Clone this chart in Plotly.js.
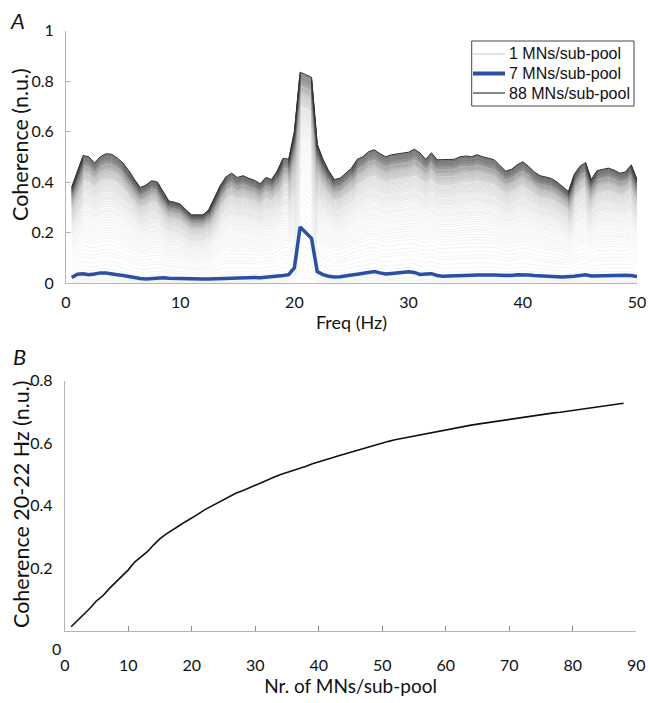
<!DOCTYPE html>
<html>
<head>
<meta charset="utf-8">
<script src="https://cdn.plot.ly/plotly-3.0.1.min.js"></script>
<style>
html,body{margin:0;padding:0;background:#fff;}
#chart{width:648px;height:703px;}
</style>
</head>
<body>
<div id="chart"></div>
<script>
// ---- Panel A: coherence spectra (x = frequency, Hz) ----
const freqHz = [0.5,1,1.5,2,2.5,3,3.5,4,4.5,5,5.5,6,6.5,7,7.5,8,8.5,9,9.5,10,
  10.5,11,11.5,12,12.5,13,13.5,14,14.5,15,15.5,16,16.5,17,17.5,18,18.5,19,19.5,20,
  20.5,21,21.5,22,22.5,23,23.5,24,24.5,25,25.5,26,26.5,27,27.5,28,28.5,29,29.5,30,
  30.5,31,31.5,32,32.5,33,33.5,34,34.5,35,35.5,36,36.5,37,37.5,38,38.5,39,39.5,40,
  40.5,41,41.5,42,42.5,43,43.5,44,44.5,45,45.5,46,46.5,47,47.5,48,48.5,49,49.5,50];

// 88 MNs/sub-pool (top, darkest curve)
const coh88 = [0.38,0.44,0.505,0.50,0.475,0.50,0.512,0.51,0.495,0.475,
  0.445,0.41,0.378,0.388,0.405,0.40,0.36,0.325,0.32,0.313,
  0.29,0.27,0.27,0.27,0.29,0.34,0.385,0.42,0.435,0.418,
  0.425,0.415,0.407,0.393,0.418,0.41,0.444,0.494,0.49,0.60,
  0.835,0.825,0.815,0.55,0.49,0.445,0.41,0.415,0.435,0.455,
  0.49,0.50,0.52,0.528,0.512,0.50,0.508,0.512,0.515,0.518,
  0.53,0.515,0.49,0.516,0.488,0.488,0.488,0.49,0.50,0.503,
  0.50,0.508,0.50,0.495,0.488,0.465,0.443,0.45,0.468,0.48,
  0.462,0.44,0.425,0.42,0.414,0.40,0.38,0.362,0.43,0.462,
  0.477,0.41,0.445,0.45,0.455,0.447,0.435,0.44,0.468,0.41];

// 7 MNs/sub-pool (blue curve)
const coh7 = [0.022,0.035,0.037,0.033,0.036,0.040,0.040,0.038,0.033,0.030,
  0.025,0.021,0.018,0.016,0.018,0.021,0.021,0.019,0.018,0.017,
  0.016,0.015,0.015,0.016,0.016,0.017,0.018,0.019,0.020,0.019,
  0.020,0.021,0.022,0.021,0.023,0.024,0.025,0.030,0.033,0.060,
  0.222,0.200,0.177,0.045,0.033,0.027,0.024,0.025,0.030,0.032,
  0.035,0.038,0.043,0.045,0.040,0.036,0.038,0.040,0.042,0.045,
  0.042,0.034,0.036,0.037,0.030,0.027,0.028,0.028,0.029,0.030,
  0.031,0.032,0.033,0.033,0.032,0.031,0.030,0.030,0.033,0.034,
  0.032,0.030,0.028,0.027,0.025,0.025,0.024,0.024,0.027,0.030,
  0.033,0.028,0.029,0.030,0.031,0.032,0.033,0.031,0.030,0.026];

// ---- Panel B: coherence 20-22 Hz vs number of MNs/sub-pool ----
const nrMNs = [1,2,3,4,5,6,7,8,9,10,11,12,13,14,15,16,17,18,19,20,
  21,22,23,24,25,26,27,28,29,30,31,32,33,34,35,36,37,38,39,40,
  41,42,43,44,45,46,47,48,49,50,51,52,53,54,55,56,57,58,59,60,
  61,62,63,64,65,66,67,68,69,70,71,72,73,74,75,76,77,78,79,80,
  81,82,83,84,85,86,87,88];
const coh2022 = [0.013,0.032,0.052,0.073,0.096,0.112,0.135,0.155,0.175,0.195,
  0.220,0.235,0.253,0.275,0.295,0.310,0.322,0.336,0.349,0.360,
  0.373,0.387,0.398,0.410,0.420,0.430,0.441,0.448,0.457,0.467,
  0.476,0.484,0.492,0.500,0.506,0.512,0.519,0.526,0.534,0.541,
  0.547,0.553,0.559,0.565,0.571,0.577,0.583,0.589,0.595,0.602,
  0.606,0.611,0.615,0.619,0.623,0.627,0.631,0.635,0.639,0.644,
  0.647,0.651,0.655,0.658,0.661,0.664,0.667,0.670,0.673,0.677,
  0.681,0.683,0.686,0.689,0.691,0.694,0.697,0.699,0.702,0.705,
  0.707,0.710,0.713,0.716,0.719,0.722,0.725,0.728];

const xTicksA = [0,10,20,30,40,50];
const yTicksA = [0,0.2,0.4,0.6,0.8,1];
const xTicksB = [0,10,20,30,40,50,60,70,80,90];
const yTicksB = [0.2,0.4,0.6,0.8];

const W = 648, H = 703;
const px = v => v / W, py = v => 1 - v / H;
const FONT = 'Lato, "Open Sans", sans-serif';
const LEGFONT = '"Liberation Sans", Arial, sans-serif';

// intermediate pool sizes: placed between the read 7- and 88-MN curves
// according to the panel-B growth of coherence with pool size
const b7 = coh2022[6], b88 = coh2022[87];
function curveFor(n) {
  if (n === 88) return coh88;
  const b = coh2022[n - 1];
  if (n < 7) return coh7.map(v => v * b / b7);
  const w = (b - b7) / (b88 - b7);
  return coh7.map((v, i) => v + w * (coh88[i] - v));
}

const traces = [];
for (let n = 1; n <= 88; n++) {
  if (n === 7) continue;
  const t = (n - 1) / 87;
  const g = Math.round(50 + 185 * (1 - Math.pow(t, 2.2)));
  traces.push({
    x: freqHz, y: curveFor(n), type: 'scatter', mode: 'lines',
    xaxis: 'x', yaxis: 'y', showlegend: false, hoverinfo: 'skip',
    line: {color: `rgb(${g},${g},${g})`, width: n === 88 ? 1 : 0.55}
  });
}
traces.push({
  x: freqHz, y: coh7, type: 'scatter', mode: 'lines',
  xaxis: 'x', yaxis: 'y', showlegend: false,
  line: {color: '#2a4fa3', width: 3.5}
});
traces.push({
  x: nrMNs, y: coh2022, type: 'scatter', mode: 'lines',
  xaxis: 'x2', yaxis: 'y2', showlegend: false,
  line: {color: '#111', width: 1.6}
});

const axCol = '#b5b5b5';
const tickFont = {family: FONT, size: 16, color: '#111'};

const layout = {
  width: W, height: H,
  margin: {l: 0, r: 0, t: 0, b: 0},
  paper_bgcolor: '#fff', plot_bgcolor: 'rgba(0,0,0,0)',
  showlegend: false,
  xaxis: {
    domain: [px(66), px(637)], range: [0, 50], anchor: 'y',
    tickvals: xTicksA, ticktext: xTicksA.map(String),
    showgrid: false, zeroline: false, showline: true, linecolor: axCol, linewidth: 1,
    ticks: 'inside', ticklen: 0, tickfont: tickFont, ticklabelstandoff: 5,
    title: {text: 'Freq (Hz)', font: {family: FONT, size: 18, color: '#111'}, standoff: 6}
  },
  yaxis: {
    domain: [py(283), py(30.5)], range: [0, 1], anchor: 'x',
    tickvals: yTicksA, ticktext: ['0','0.2','0.4','0.6','0.8','1'],
    showgrid: false, zeroline: false, showline: true, linecolor: axCol, linewidth: 1,
    ticks: 'inside', ticklen: 5, tickcolor: axCol, tickfont: tickFont, ticklabelstandoff: 8
  },
  xaxis2: {
    domain: [px(64.8), px(636.3)], range: [0, 90], anchor: 'y2',
    tickvals: xTicksB, ticktext: xTicksB.map(String),
    showgrid: false, zeroline: false, showline: true, linecolor: axCol, linewidth: 1,
    ticks: 'inside', ticklen: 5, tickcolor: '#888', tickfont: tickFont, ticklabelstandoff: 20,
    title: {text: 'Nr. of MNs/sub-pool', font: {family: FONT, size: 19, color: '#111'}, standoff: 6}
  },
  yaxis2: {
    domain: [py(630.8), py(380.7)], range: [0, 0.8], anchor: 'x2',
    tickvals: yTicksB, ticktext: yTicksB.map(v => v.toFixed(1)),
    showgrid: false, zeroline: false, showline: true, linecolor: axCol, linewidth: 1,
    ticks: '', tickfont: tickFont, ticklabelstandoff: 8
  },
  shapes: [
    {type: 'rect', xref: 'paper', yref: 'paper', x0: px(471.7), x1: px(634), y0: py(106), y1: py(41),
     line: {color: '#444', width: 1}, fillcolor: '#fff', layer: 'above'},
    {type: 'line', xref: 'paper', yref: 'paper', x0: px(473), x1: px(505), y0: py(54), y1: py(54),
     line: {color: '#c8c8c8', width: 1}, layer: 'above'},
    {type: 'line', xref: 'paper', yref: 'paper', x0: px(473), x1: px(505), y0: py(73.5), y1: py(73.5),
     line: {color: '#2a4fa3', width: 4}, layer: 'above'},
    {type: 'line', xref: 'paper', yref: 'paper', x0: px(473), x1: px(505), y0: py(93), y1: py(93),
     line: {color: '#111', width: 1}, layer: 'above'}
  ],
  annotations: [
    {xref: 'paper', yref: 'paper', x: px(507), y: py(54), xanchor: 'left', yanchor: 'middle', showarrow: false,
     text: '1 MNs/sub-pool', font: {family: LEGFONT, size: 16, color: '#111'}},
    {xref: 'paper', yref: 'paper', x: px(507), y: py(73.5), xanchor: 'left', yanchor: 'middle', showarrow: false,
     text: '7 MNs/sub-pool', font: {family: LEGFONT, size: 16, color: '#111'}},
    {xref: 'paper', yref: 'paper', x: px(507), y: py(93), xanchor: 'left', yanchor: 'middle', showarrow: false,
     text: '88 MNs/sub-pool', font: {family: LEGFONT, size: 16, color: '#111'}},
    {xref: 'paper', yref: 'paper', x: px(19.5), y: py(144.5), xanchor: 'center', yanchor: 'middle', showarrow: false,
     textangle: -90, text: 'Coherence (n.u.)', font: {family: FONT, size: 21.5, color: '#111'}},
    {xref: 'paper', yref: 'paper', x: px(21), y: py(504), xanchor: 'center', yanchor: 'middle', showarrow: false,
     textangle: -90, text: 'Coherence 20-22 Hz (n.u.)', font: {family: FONT, size: 21.5, color: '#111'}},
    {xref: 'paper', yref: 'paper', x: px(17), y: py(21), xanchor: 'center', yanchor: 'middle', showarrow: false,
     text: '<i>A</i>', font: {family: FONT, size: 22, color: '#111'}},
    {xref: 'paper', yref: 'paper', x: px(19), y: py(356), xanchor: 'center', yanchor: 'middle', showarrow: false,
     text: '<i>B</i>', font: {family: FONT, size: 22, color: '#111'}},
    {xref: 'paper', yref: 'paper', x: px(56), y: py(648), xanchor: 'center', yanchor: 'middle', showarrow: false,
     text: '0', font: tickFont}
  ]
};

Plotly.newPlot('chart', traces, layout, {staticPlot: true, displayModeBar: false});
</script>
</body>
</html>
